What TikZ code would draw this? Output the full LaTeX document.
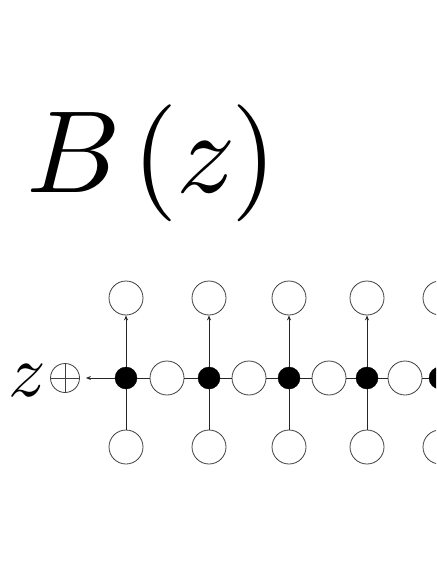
\documentclass[tikz,border=0pt]{standalone}
\usepackage{graphicx}
\usetikzlibrary{arrows.meta}
\begin{document}
\begin{tikzpicture}[x=1pt,y=-1pt,
  wnode/.style={circle,draw=black!75,line width=0.8pt,minimum size=34pt,inner sep=0pt,fill=white},
  bnode/.style={circle,fill=black,draw=black,minimum size=22pt,inner sep=0pt},
  onode/.style={circle,draw=black!75,line width=0.8pt,minimum size=29pt,inner sep=0pt},
  conn/.style={line width=1pt,black!85},
  arr/.style={conn,-{Stealth[length=5pt,width=4pt]}}]
\clip (0,0) rectangle (436,564);
\fill[white] (0,0) rectangle (436,564);
\node[anchor=base west,inner sep=0pt] (title) at (26,192) {\scalebox{11.7}{$B\kern1.0pt(\kern-0.1pt z\kern-0.45pt)$}};
\node[anchor=base west,inner sep=0pt] (zlab) at (8,396) {\scalebox{7.4}{$z$}};
\node[onode] (o) at (65,378) {};
\draw[line width=0.8pt,black!75] (o.north) -- (o.south) (o.west) -- (o.east);
% black nodes
\foreach \i/\x in {1/126,2/209,3/289,4/367,5/440}{
  \node[bnode] (b\i) at (\x,378) {};
  \node[wnode] (t\i) at (\x,298) {};
  \node[wnode] (d\i) at (\x,447) {};
}
\foreach \i/\x in {1/167,2/249,3/329,4/405}{
  \node[wnode] (w\i) at (\x,378) {};
}
\foreach \i in {1,...,5}{
  \draw[arr] (b\i) -- (t\i);
  \draw[conn] (d\i) -- (b\i);
}
\foreach \i/\j in {1/2,2/3,3/4,4/5}{
  \draw[conn] (b\i) -- (w\i);
  \draw[conn] (w\i) -- (b\j);
}
\draw[arr,shorten >=6pt] (b1) -- (o);
\end{tikzpicture}
\end{document}
